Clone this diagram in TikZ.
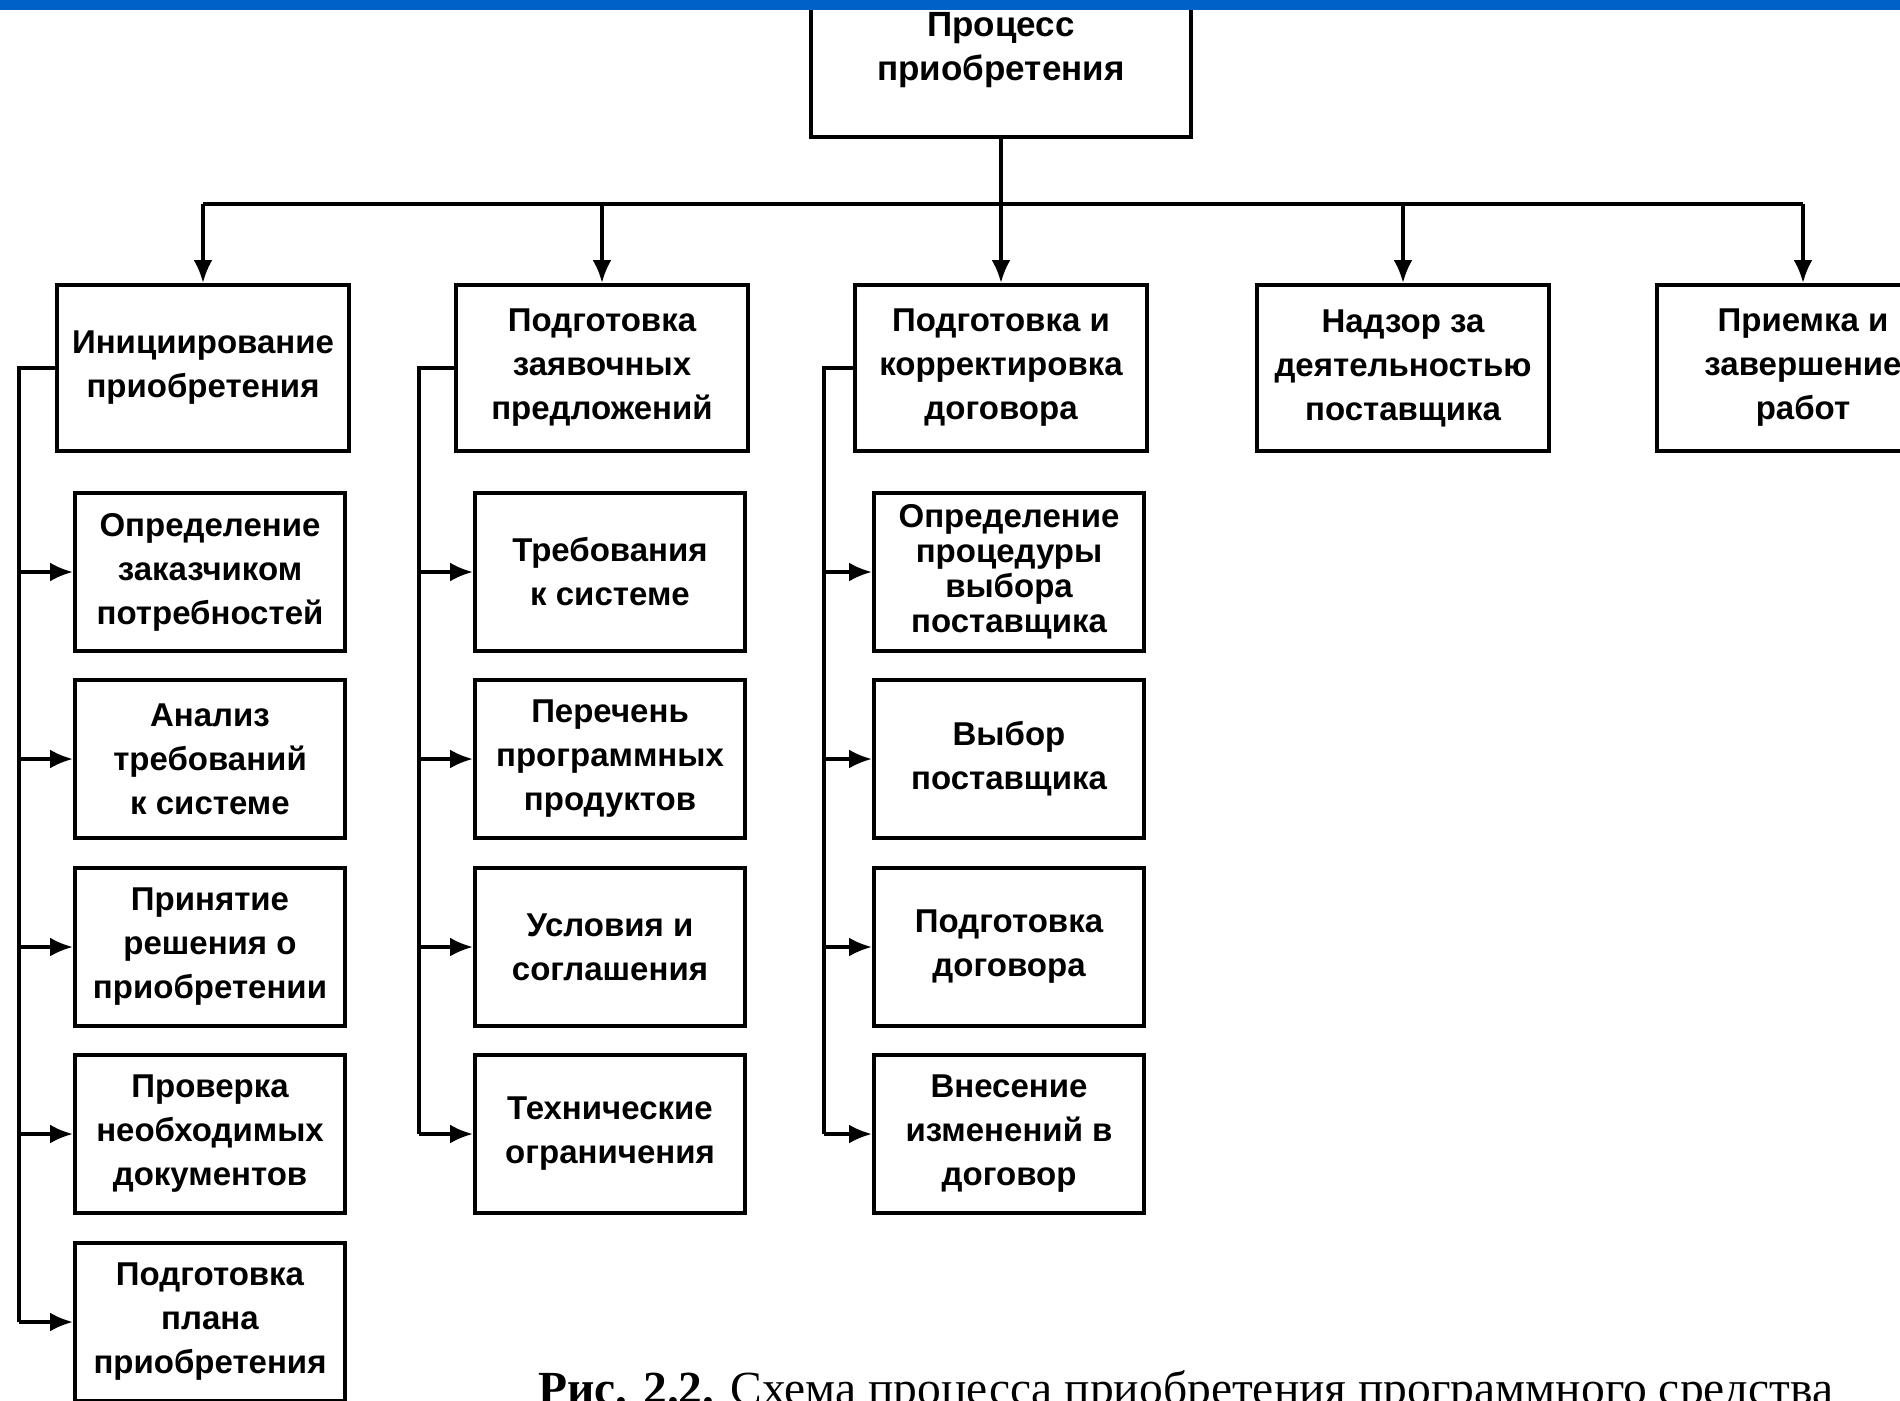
\documentclass[tikz,border=0pt]{standalone}
\usepackage{fontspec}
\setmainfont{Liberation Serif}
\newfontfamily\boxfont{Liberation Sans}
\usetikzlibrary{arrows.meta}
\definecolor{barblue}{RGB}{0,98,200}

\begin{document}
\begin{tikzpicture}[%
      x=1pt, y=-1pt,
      >={Latex[length=23pt,width=19pt]},
      box/.style={draw, line width=4pt, align=center, inner sep=0pt,
        minimum width=292pt, minimum height=166pt,
        font=\boxfont\bfseries\fontsize{33}{44}\selectfont},
      sub/.style={box, minimum width=270pt, minimum height=158pt},
      link/.style={line width=3.6pt},
      ]
      \clip (0,0) rectangle (1900,1400);
      \fill [white] (0,0) rectangle (1900,1400);

      \node [box, minimum width=380pt, minimum height=174pt,
        font=\boxfont\bfseries\fontsize{35}{44}\selectfont] (proc) at (1001,50) {Процесс\\приобретения};

      \node [box] (init) at (203,368) {Инициирование\\приобретения};
      \node [box] (bids) at (602,368) {Подготовка\\заявочных\\предложений};
      \node [box] (contract) at (1001,368) {Подготовка и\\корректировка\\договора};
      \node [box] (superv) at (1403,368) {Надзор за\\деятельностью\\поставщика};
      \node [box] (accept) at (1803,368) {Приемка и\\завершение\\работ};

      \node [sub] (s11) at (210,572) {Определение\\заказчиком\\потребностей};
      \node [sub] (s12) at (210,759) {Анализ\\требований\\к системе};
      \node [sub] (s13) at (210,947) {Принятие\\решения о\\приобретении};
      \node [sub] (s14) at (210,1134) {Проверка\\необходимых\\документов};
      \node [sub] (s15) at (210,1322) {Подготовка\\плана\\приобретения};

      \node [sub] (s21) at (610,572) {Требования\\к системе};
      \node [sub] (s22) at (610,759) {Перечень\\программных\\продуктов};
      \node [sub] (s23) at (610,947) {Условия и\\соглашения};
      \node [sub] (s24) at (610,1134) {Технические\\ограничения};

      \node [sub, font=\boxfont\bfseries\fontsize{33}{35}\selectfont] (s31) at (1009,572) {Определение\\процедуры\\выбора\\поставщика};
      \node [sub] (s32) at (1009,759) {Выбор\\поставщика};
      \node [sub] (s33) at (1009,947) {Подготовка\\договора};
      \node [sub] (s34) at (1009,1134) {Внесение\\изменений в\\договор};

      \coordinate (bus) at (1001,204);
      \coordinate (sp1) at (19,0);
      \coordinate (sp2) at (419,0);
      \coordinate (sp3) at (824,0);

      \draw [link] (proc.south) -- (bus);
      \draw [link] (init.north |- bus) -- (accept.north |- bus);
      \draw [link,->] (init.north |- bus) -- (init.north);
      \draw [link,->] (bids.north |- bus) -- (bids.north);
      \draw [link,->] (contract.north |- bus) -- (contract.north);
      \draw [link,->] (superv.north |- bus) -- (superv.north);
      \draw [link,->] (accept.north |- bus) -- (accept.north);

      \draw [link] (init.west) -- (sp1 |- init.west) -- (sp1 |- s15.west);
      \draw [link,->] (sp1 |- s11.west) -- (s11.west);
      \draw [link,->] (sp1 |- s12.west) -- (s12.west);
      \draw [link,->] (sp1 |- s13.west) -- (s13.west);
      \draw [link,->] (sp1 |- s14.west) -- (s14.west);
      \draw [link,->] (sp1 |- s15.west) -- (s15.west);

      \draw [link] (bids.west) -- (sp2 |- bids.west) -- (sp2 |- s24.west);
      \draw [link,->] (sp2 |- s21.west) -- (s21.west);
      \draw [link,->] (sp2 |- s22.west) -- (s22.west);
      \draw [link,->] (sp2 |- s23.west) -- (s23.west);
      \draw [link,->] (sp2 |- s24.west) -- (s24.west);

      \draw [link] (contract.west) -- (sp3 |- contract.west) -- (sp3 |- s34.west);
      \draw [link,->] (sp3 |- s31.west) -- (s31.west);
      \draw [link,->] (sp3 |- s32.west) -- (s32.west);
      \draw [link,->] (sp3 |- s33.west) -- (s33.west);
      \draw [link,->] (sp3 |- s34.west) -- (s34.west);

      \node [anchor=base west, inner sep=0pt, font=\fontsize{47.5}{50}\selectfont] (caption) at (538,1404)
        {\textbf{Рис. 2.2.} Схема процесса приобретения программного средства};

      \fill [barblue] (0,0) rectangle (1900,10);
\end{tikzpicture}
\end{document}
